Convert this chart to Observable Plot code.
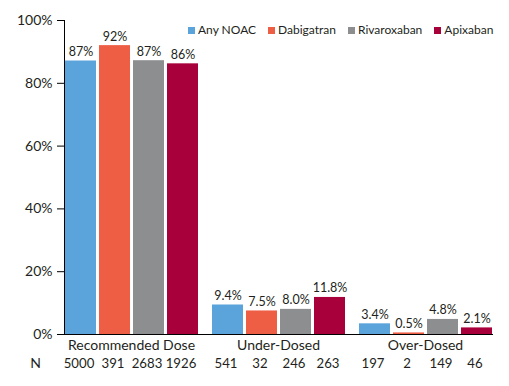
<!DOCTYPE html>
<html><head><meta charset="utf-8">
<script src="https://cdn.jsdelivr.net/npm/d3@7"></script>
<script src="https://cdn.jsdelivr.net/npm/@observablehq/plot@0.6"></script>
<style>
body{margin:0;background:#fff;}
#chart{position:relative;width:509px;height:386px;font-family:Lato,sans-serif;}
#legend{position:absolute;top:23px;left:188px;display:flex;gap:12px;font-size:12px;color:#231f20;line-height:14px;}
.item{display:flex;align-items:center}
.sw{width:7px;height:7px;margin-right:3px}
</style></head><body><div id="chart"></div>
<script>
const groups = ["Recommended Dose", "Under-Dosed", "Over-Dosed"];
const drugs = ["Any NOAC", "Dabigatran", "Rivaroxaban", "Apixaban"];
const colors = ["#5ba4db", "#ee5e45", "#8d8e90", "#a8003a"];
const recommended = [87.1, 92.0, 87.2, 86.2];
const underDosed = [9.4, 7.5, 8.0, 11.8];
const overDosed = [3.4, 0.5, 4.8, 2.1];
const recommendedLabels = ["87%", "92%", "87%", "86%"];
const underLabels = ["9.4%", "7.5%", "8.0%", "11.8%"];
const overLabels = ["3.4%", "0.5%", "4.8%", "2.1%"];
const recommendedN = [5000, 391, 2683, 1926];
const underN = [541, 32, 246, 263];
const overN = [197, 2, 149, 46];
const yTicks = [0, 20, 40, 60, 80, 100];

const series = [
  [recommended, recommendedLabels, recommendedN],
  [underDosed, underLabels, underN],
  [overDosed, overLabels, overN]
];
const rows = [];
groups.forEach((g, gi) => {
  drugs.forEach((d, di) => {
    rows.push({group: g, drug: d, value: series[gi][0][di], label: series[gi][1][di], n: String(series[gi][2][di])});
  });
});

const plot = Plot.plot({
  width: 509, height: 386,
  marginLeft: 57, marginRight: 11, marginTop: 20, marginBottom: 52,
  style: {fontFamily: "Lato, sans-serif", fontSize: "12px", color: "#231f20", background: "#fff"},
  fx: {domain: groups, paddingInner: 0.09, paddingOuter: 0.0386, label: null},
  x: {domain: drugs, paddingInner: 0.1, paddingOuter: 0, axis: null},
  y: {domain: [0, 100], label: null},
  color: {domain: drugs, range: colors},
  marks: [
    Plot.barY(rows, {fx: "group", x: "drug", y: "value", fill: "drug"}),
    Plot.text(rows, {fx: "group", x: "drug", y: "value", text: "label", dy: -9, fontSize: 12.5}),
    Plot.text(rows, {fx: "group", x: "drug", text: "n", frameAnchor: "bottom", dy: 33, dx: -2, fontSize: 13.2}),
    Plot.axisY({ticks: yTicks, tickFormat: d => d + "%", tickSize: 7, tickPadding: 5, fontSize: 14, stroke: "#000", label: null}),
    Plot.axisFx({anchor: "bottom", tickSize: 0, tickPadding: 6, label: null, fontSize: 14}),
    Plot.frame({anchor: "left", facet: "super", stroke: "#000"}),
    Plot.frame({anchor: "bottom", facet: "super", stroke: "#000"}),
    Plot.text(["N"], {frameAnchor: "bottom-left", textAnchor: "middle", dx: -29, dy: 33, facet: "super", fontSize: 14})
  ]
});

const chart = document.getElementById("chart");
chart.appendChild(plot);
const legend = document.createElement("div");
legend.id = "legend";
drugs.forEach((d, i) => {
  const item = document.createElement("div");
  item.className = "item";
  const sw = document.createElement("span");
  sw.className = "sw";
  sw.style.background = colors[i];
  const t = document.createElement("span");
  t.textContent = d;
  item.appendChild(sw);
  item.appendChild(t);
  legend.appendChild(item);
});
chart.appendChild(legend);
</script>
</body></html>
